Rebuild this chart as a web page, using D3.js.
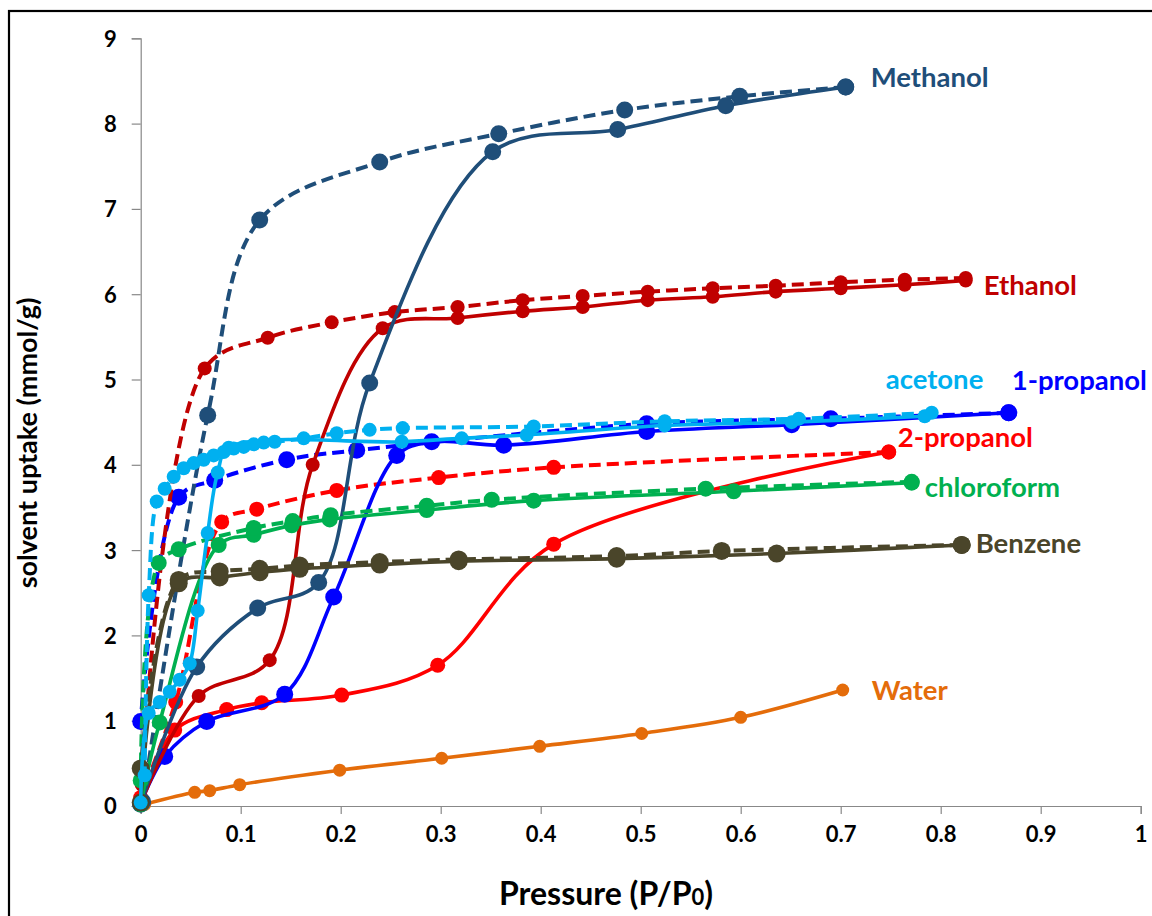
<!DOCTYPE html>
<html>
<head>
<meta charset="utf-8">
<script src="https://cdn.jsdelivr.net/npm/d3@7"></script>
<style>
body { margin: 0; background: #fff; }
svg { display: block; font-family: Lato, "Open Sans", sans-serif; font-weight: bold; }
</style>
</head>
<body>
<script>
const width = 1152,
    height = 916;

// tick values
const pressureTicks = [0, 0.1, 0.2, 0.3, 0.4, 0.5, 0.6, 0.7, 0.8, 0.9, 1];
const uptakeTicks = [0, 1, 2, 3, 4, 5, 6, 7, 8, 9];

// drawing order (back to front)
const solvents = ['Water', '2-propanol', '1-propanol', 'Ethanol', 'Methanol', 'chloroform', 'Benzene', 'acetone'];

// [P/P0, uptake mmol/g]  ads = adsorption (solid), des = desorption (dashed)
const methanolAds = [[0, 0.02], [0.056, 1.63], [0.117, 2.32], [0.178, 2.62], [0.229, 4.96], [0.352, 7.67], [0.477, 7.93], [0.585, 8.21], [0.705, 8.43]];
const methanolDes = [[0.705, 8.43], [0.599, 8.32], [0.484, 8.16], [0.358, 7.88], [0.239, 7.55], [0.119, 6.87], [0.067, 4.58], [0.002, 0.05]];

const ethanolAds = [[0, 0.03], [0.058, 1.29], [0.129, 1.71], [0.172, 4.0], [0.242, 5.60], [0.317, 5.72], [0.382, 5.80], [0.442, 5.85], [0.507, 5.93], [0.572, 5.97], [0.635, 6.03], [0.700, 6.07], [0.764, 6.11], [0.825, 6.16]];
const ethanolDes = [[0.825, 6.19], [0.764, 6.17], [0.700, 6.14], [0.635, 6.10], [0.572, 6.07], [0.507, 6.03], [0.442, 5.98], [0.382, 5.93], [0.317, 5.85], [0.254, 5.79], [0.191, 5.67], [0.127, 5.49], [0.064, 5.13], [0.001, 0.25]];

const acetoneAds = [[0, 0.04], [0.008, 1.09], [0.019, 1.22], [0.029, 1.34], [0.039, 1.48], [0.049, 1.67], [0.057, 2.29], [0.067, 3.20], [0.077, 3.91], [0.088, 4.20], [0.261, 4.27], [0.321, 4.31], [0.386, 4.35], [0.524, 4.46], [0.651, 4.50], [0.784, 4.57]];
const acetoneDes = [[0.791, 4.61], [0.658, 4.54], [0.524, 4.51], [0.393, 4.45], [0.262, 4.43], [0.229, 4.41], [0.196, 4.37], [0.163, 4.31], [0.134, 4.27], [0.123, 4.26], [0.113, 4.24], [0.103, 4.21], [0.093, 4.19], [0.083, 4.15], [0.073, 4.11], [0.063, 4.06], [0.053, 4.02], [0.043, 3.96], [0.033, 3.86], [0.024, 3.72], [0.016, 3.57], [0.008, 2.47], [0.004, 0.36]];

const propanol1Ads = [[0, 0.03], [0.024, 0.58], [0.066, 0.99], [0.144, 1.31], [0.193, 2.45], [0.256, 4.11], [0.291, 4.27], [0.363, 4.23], [0.506, 4.39], [0.651, 4.47], [0.868, 4.61]];
const propanol1Des = [[0.868, 4.61], [0.690, 4.54], [0.506, 4.48], [0.216, 4.17], [0.146, 4.06], [0.074, 3.82], [0.038, 3.62], [0, 0.99]];

const propanol2Ads = [[0, 0.03], [0.034, 0.89], [0.086, 1.13], [0.121, 1.21], [0.201, 1.30], [0.297, 1.65], [0.413, 3.07], [0.748, 4.15]];
const propanol2Des = [[0.748, 4.15], [0.413, 3.97], [0.298, 3.85], [0.196, 3.70], [0.116, 3.48], [0.081, 3.33], [0.035, 1.22], [0, 0.1]];

const chloroformAds = [[0, 0.02], [0.019, 0.98], [0.078, 3.06], [0.113, 3.18], [0.151, 3.29], [0.189, 3.36], [0.286, 3.47], [0.393, 3.58], [0.593, 3.69], [0.771, 3.79]];
const chloroformDes = [[0.771, 3.80], [0.565, 3.72], [0.351, 3.59], [0.286, 3.52], [0.190, 3.41], [0.152, 3.34], [0.113, 3.26], [0.038, 3.01], [0.018, 2.85], [0, 0.3]];

const benzeneAds = [[0, 0.04], [0.038, 2.61], [0.079, 2.68], [0.119, 2.74], [0.159, 2.78], [0.239, 2.83], [0.318, 2.87], [0.476, 2.90], [0.636, 2.96], [0.821, 3.06]];
const benzeneDes = [[0.821, 3.06], [0.581, 2.99], [0.476, 2.93], [0.318, 2.89], [0.239, 2.86], [0.159, 2.82], [0.119, 2.78], [0.079, 2.75], [0.038, 2.65], [0, 0.44]];

const waterAds = [[0.004, 0.02], [0.054, 0.16], [0.069, 0.18], [0.099, 0.25], [0.199, 0.42], [0.301, 0.56], [0.399, 0.70], [0.501, 0.85], [0.600, 1.04], [0.702, 1.36]];

const seriesData = {
    'Methanol': [methanolAds, methanolDes],
    'Ethanol': [ethanolAds, ethanolDes],
    'acetone': [acetoneAds, acetoneDes],
    '1-propanol': [propanol1Ads, propanol1Des],
    '2-propanol': [propanol2Ads, propanol2Des],
    'chloroform': [chloroformAds, chloroformDes],
    'Benzene': [benzeneAds, benzeneDes],
    'Water': [waterAds, null]
};

// look of each solvent, label offset is from the curve end in px
const looks = {
    'Methanol':   {color: '#1f4e79', r: 8.5, dx: 25, dy: 0},
    'Ethanol':    {color: '#c00000', r: 7,   dx: 18, dy: 14},
    'acetone':    {color: '#00b0f0', r: 7,   dx: -46, dy: -24},
    '1-propanol': {color: '#0000ff', r: 8.5, dx: 3, dy: -23},
    '2-propanol': {color: '#ff0000', r: 7.5, dx: 9, dy: -5},
    'chloroform': {color: '#00b050', r: 8,   dx: 13, dy: 14},
    'Benzene':    {color: '#4a452a', r: 9,   dx: 14, dy: 8},
    'Water':      {color: '#e46c0a', r: 6.5, dx: 29, dy: 10}
};

const x = d3.scaleLinear().domain([0, 1]).range([140.7, 1140.7]);
const y = d3.scaleLinear().domain([0, 9]).range([806, 38.3]);

const svg = d3.select('body').append('svg')
    .attr('width', width)
    .attr('height', height)
    ;

// frame of the original picture
svg.append('rect')
    .attr('x', 9).attr('y', 11)
    .attr('width', 1300).attr('height', 1000)
    .attr('fill', 'none')
    .attr('stroke', '#000')
    .attr('stroke-width', 2.2)
    ;

function renderAxis() {
    const xAxis = d3.axisBottom(x)
        .tickValues(pressureTicks)
        .tickFormat(d3.format('~g'))
        .tickSize(8)
        .tickPadding(12)
        ;
    const yAxis = d3.axisLeft(y)
        .tickValues(uptakeTicks)
        .tickSize(9)
        .tickPadding(15)
        ;

    const gx = svg.append('g')
        .attr('transform', 'translate(0,' + y(0) + ')')
        .call(xAxis);
    const gy = svg.append('g')
        .attr('transform', 'translate(' + x(0) + ',0)')
        .call(yAxis);

    [gx, gy].forEach(g => {
        g.select('.domain').attr('stroke', '#888').attr('stroke-width', 1.2);
        g.selectAll('.tick line').attr('stroke', '#888').attr('stroke-width', 1.2);
        g.selectAll('.tick text')
            .attr('fill', '#000')
            .style('font-family', 'Lato, sans-serif')
            .style('font-weight', 'bold')
            .style('font-size', '22px');
    });
    gy.selectAll('.tick text').attr('dy', '0.36em');

    svg.append('text')
        .attr('x', 606)
        .attr('y', 905)
        .attr('text-anchor', 'middle')
        .style('font-size', '32px')
        .text('Pressure (P/P')
        .append('tspan')
        .style('font-size', '22px')
        .text('0')
        .append('tspan')
        .style('font-size', '32px')
        .text(')')
        ;

    svg.append('text')
        .attr('transform', 'translate(37,443) rotate(-90)')
        .attr('text-anchor', 'middle')
        .style('font-size', '27px')
        .text('solvent uptake (mmol/g)')
        ;
}

function render() {
    const line = d3.line()
        .x(d => x(d[0]))
        .y(d => y(d[1]))
        .curve(d3.curveCatmullRom.alpha(0.5))
        ;

    solvents.forEach(name => {
        const look = looks[name];
        const [ads, des] = seriesData[name];
        const g = svg.append('g').attr('class', 'solvent');

        if (des) {
            g.append('path')
                .attr('d', line(des))
                .attr('fill', 'none')
                .attr('stroke', look.color)
                .attr('stroke-width', 4)
                .attr('stroke-dasharray', '12,6')
                ;
        }
        g.append('path')
            .attr('d', line(ads))
            .attr('fill', 'none')
            .attr('stroke', look.color)
            .attr('stroke-width', 3.6)
            ;

        const pts = des ? ads.concat(des) : ads;
        g.selectAll('circle')
            .data(pts)
            .enter()
            .append('circle')
            .attr('cx', d => x(d[0]))
            .attr('cy', d => y(d[1]))
            .attr('r', look.r)
            .attr('fill', look.color)
            ;
    });

    // labels at the far end of each curve
    solvents.forEach(name => {
        const look = looks[name];
        const [ads, des] = seriesData[name];
        const pts = des ? ads.concat(des) : ads;
        const end = d3.greatest(pts, d => d[0]);
        svg.append('text')
            .attr('x', x(end[0]) + look.dx)
            .attr('y', y(end[1]) + look.dy)
            .attr('fill', look.color)
            .style('font-size', '27.5px')
            .text(name)
            ;
    });
}

renderAxis();
render();
</script>
</body>
</html>
